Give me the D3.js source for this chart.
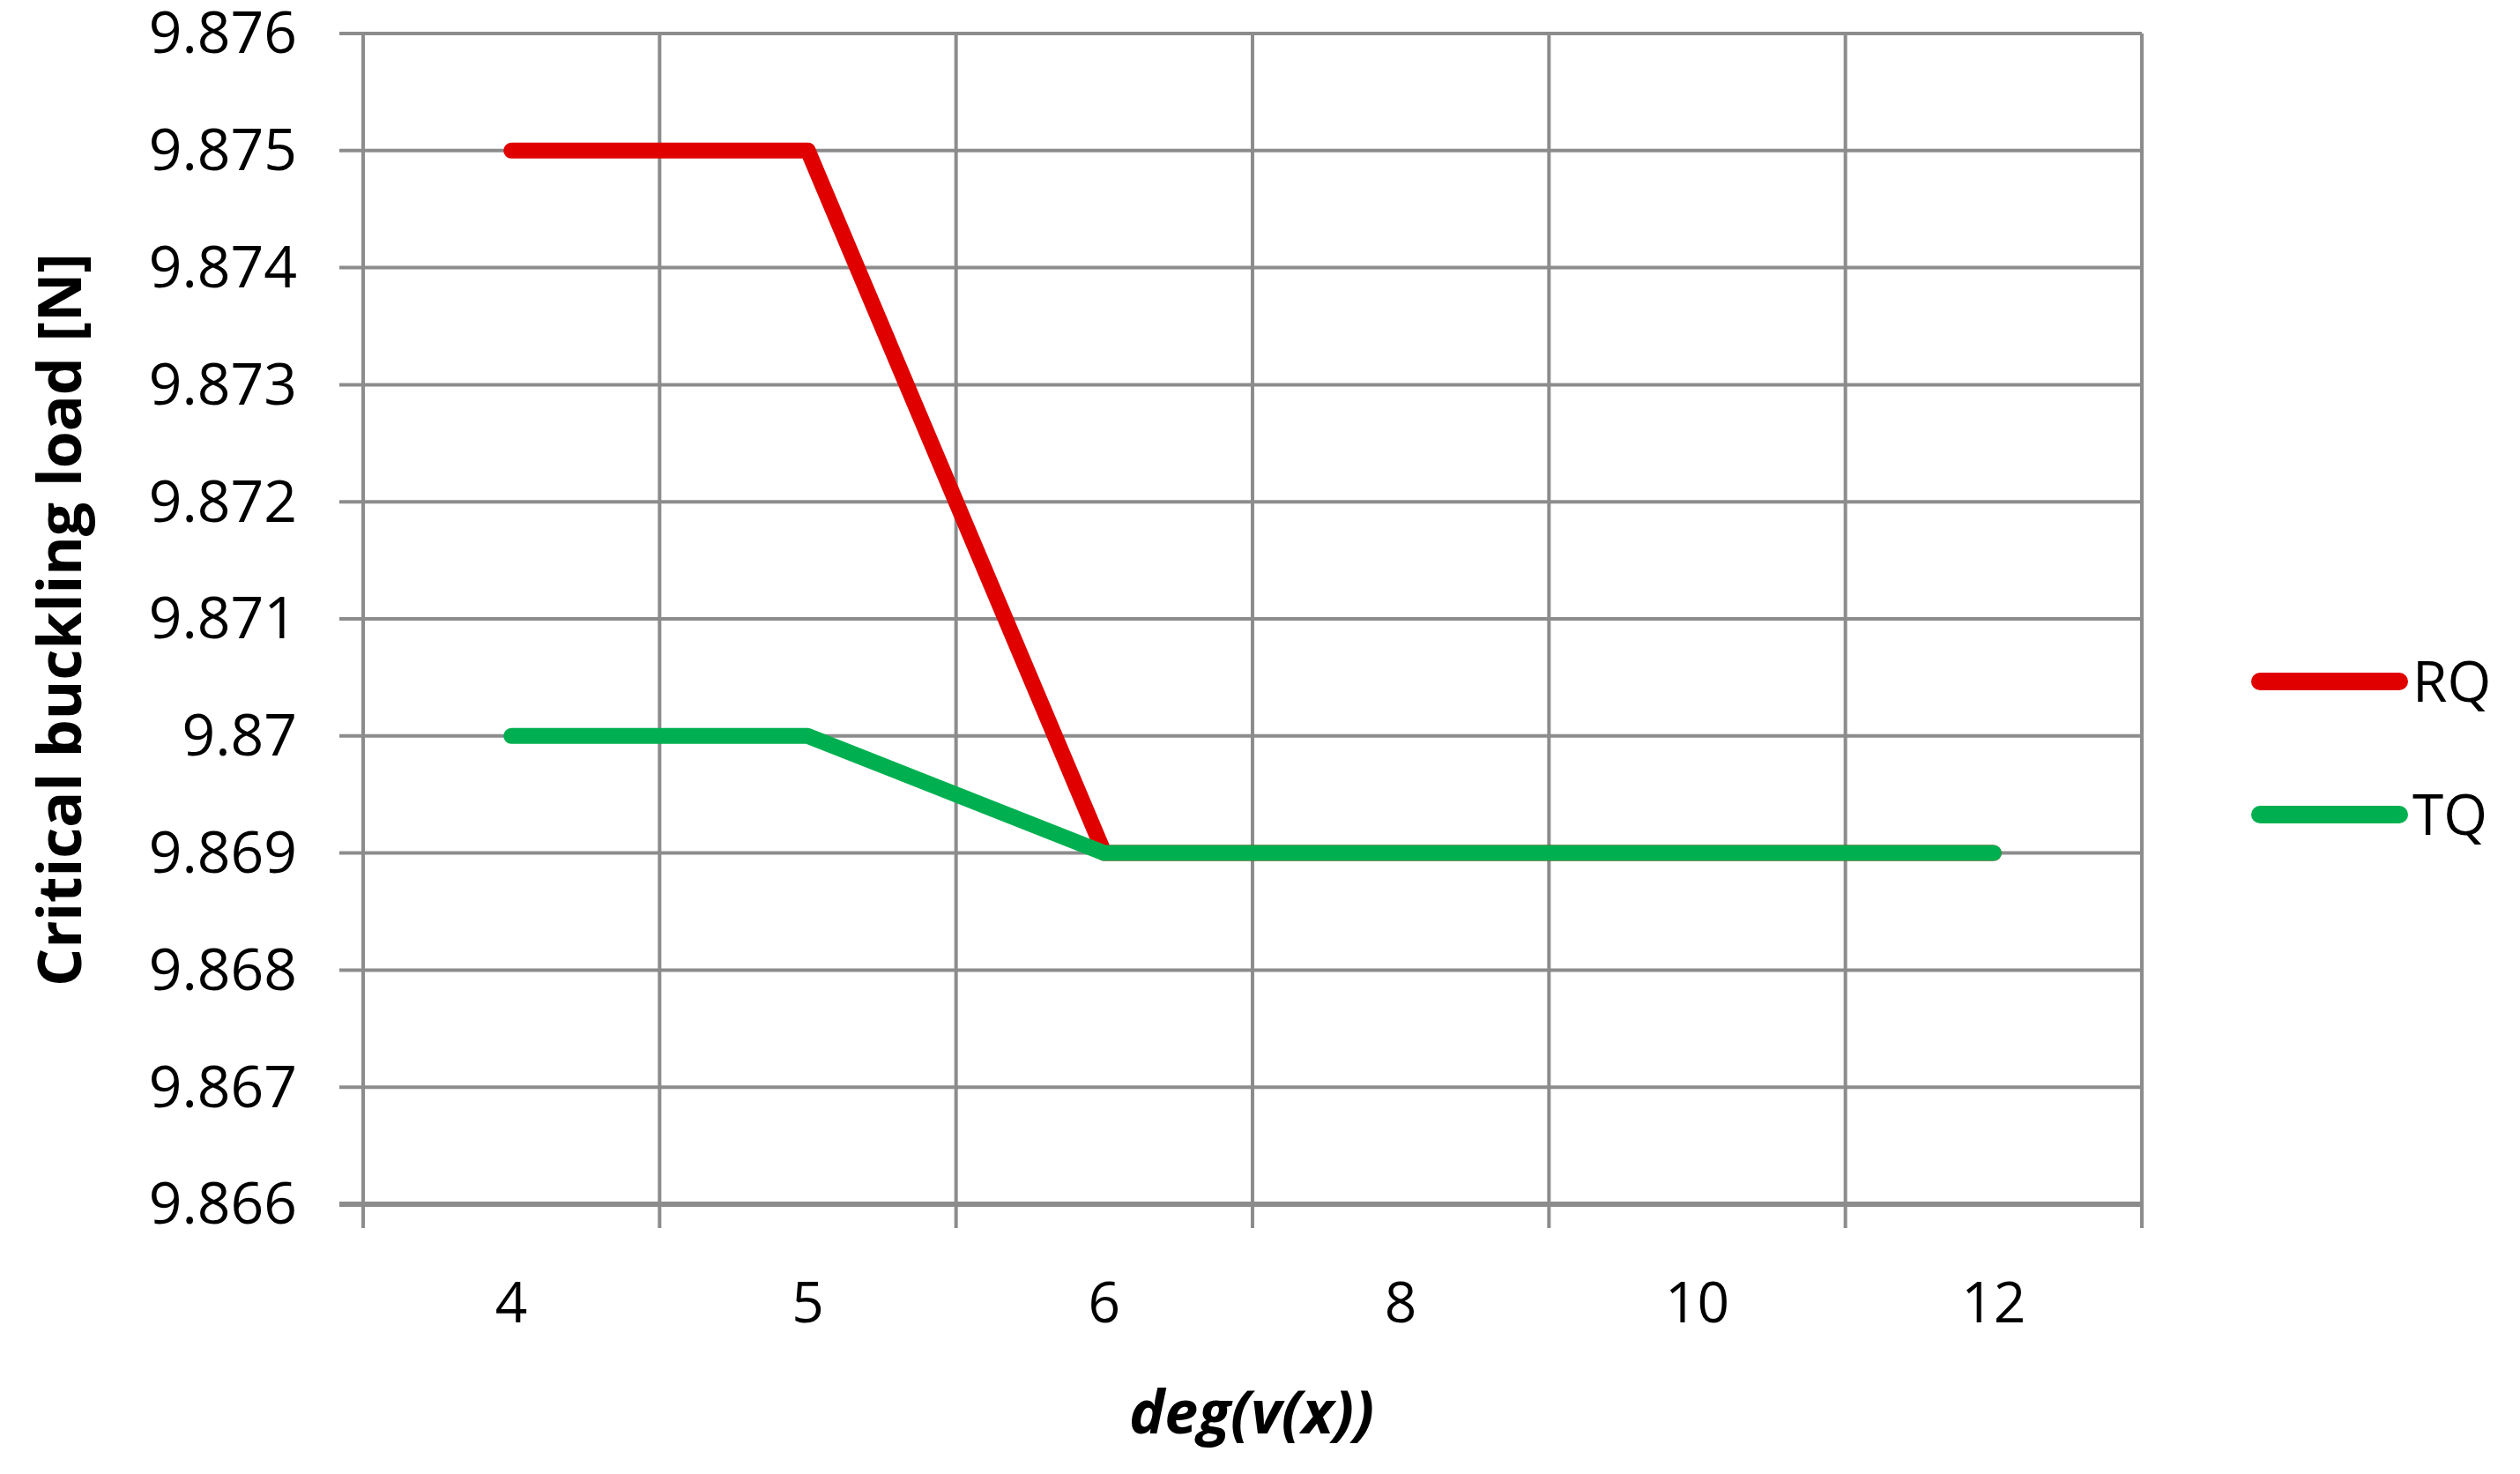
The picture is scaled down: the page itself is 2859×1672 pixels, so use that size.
<!DOCTYPE html>
<html><head><meta charset="utf-8">
<script src="https://cdn.jsdelivr.net/npm/d3@7"></script>
<style>body{margin:0;background:#fff}</style></head>
<body><svg id="c" width="2859" height="1672"></svg>
<script>
const categories = ["4","5","6","8","10","12"];
const rqValues = [9.875,9.875,9.869,9.869,9.869,9.869];
const tqValues = [9.870,9.870,9.869,9.869,9.869,9.869];
const yTicks = [9.866,9.867,9.868,9.869,9.870,9.871,9.872,9.873,9.874,9.875,9.876];
const yTickLabels = ["9.866","9.867","9.868","9.869","9.87","9.871","9.872","9.873","9.874","9.875","9.876"];
const seriesNames = ["RQ","TQ"];
const seriesColors = ["#e00000","#00b050"];

const svg = d3.select("#c");
const font = "'Open Sans', 'Noto Sans', sans-serif";
const L=412,R=2430,T=38,B=1366;
const x = d3.scaleBand().domain(categories).range([L,R]);
const y = d3.scaleLinear().domain([9.866,9.876]).range([B,T]);
const grid="#8c8c8c";

svg.append("g").selectAll("line").data(yTicks).join("line")
  .attr("x1",L-27).attr("x2",R).attr("y1",d=>y(d)).attr("y2",d=>y(d))
  .attr("stroke",grid).attr("stroke-width",d=>d===9.866?6:4);
const bounds = categories.map(c=>x(c)).concat([R]);
svg.append("g").selectAll("line").data(bounds).join("line")
  .attr("x1",d=>d).attr("x2",d=>d).attr("y1",T).attr("y2",B+27)
  .attr("stroke",grid).attr("stroke-width",4);

svg.append("g").selectAll("text").data(yTicks).join("text")
  .attr("x",337).attr("y",d=>y(d)).attr("dy","0.34em").attr("text-anchor","end")
  .attr("font-family",font).attr("font-size",66).text((d,i)=>yTickLabels[i]);
svg.append("g").selectAll("text").data(categories).join("text")
  .attr("x",d=>x(d)+x.bandwidth()/2).attr("y",1500).attr("text-anchor","middle")
  .attr("font-family",font).attr("font-size",64).text(d=>d);

svg.append("text").attr("x",1420).attr("y",1626).attr("text-anchor","middle")
  .attr("font-family",font).attr("font-size",68).attr("font-weight","bold").attr("font-style","italic")
  .text("deg(v(x))");
svg.append("text").attr("transform","translate(92,703) rotate(-90)").attr("text-anchor","middle")
  .attr("font-family",font).attr("font-size",68).attr("font-weight","bold")
  .text("Critical buckling load [N]");

const line = d3.line().x((d,i)=>x(categories[i])+x.bandwidth()/2).y(d=>y(d));
[rqValues,tqValues].forEach((vals,i)=>{
  svg.append("path").attr("d",line(vals)).attr("fill","none")
    .attr("stroke",seriesColors[i]).attr("stroke-width",18)
    .attr("stroke-linecap","round").attr("stroke-linejoin","round");
});

seriesNames.forEach((n,i)=>{
  const ly = 773 + i*151;
  svg.append("line").attr("x1",2564).attr("x2",2722).attr("y1",ly).attr("y2",ly)
    .attr("stroke",seriesColors[i]).attr("stroke-width",20).attr("stroke-linecap","round");
  svg.append("text").attr("x",2737).attr("y",ly).attr("dy","0.36em")
    .attr("font-family",font).attr("font-size",64).text(n);
});
</script></body></html>
